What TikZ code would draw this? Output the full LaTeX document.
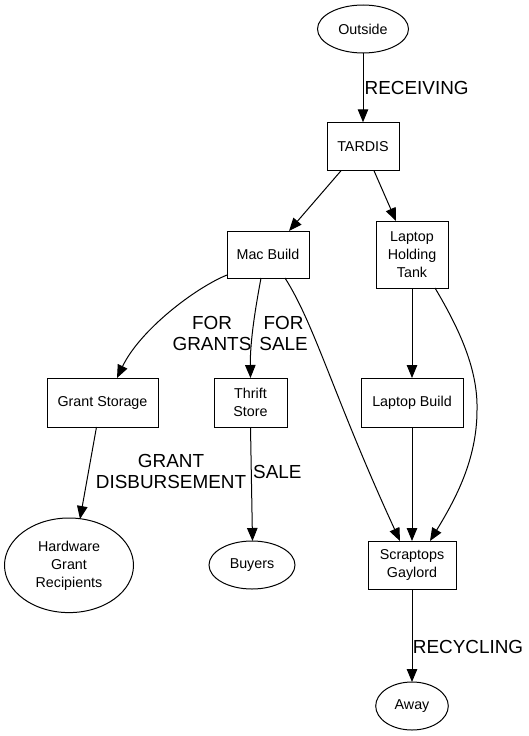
\documentclass[tikz,border=0pt]{standalone}
\usepackage{fontspec}
\setmainfont{Liberation Sans}
\usetikzlibrary{arrows.meta,shapes.geometric}
\begin{document}
\begin{tikzpicture}[x=1pt,y=-1pt,
  every node/.style={inner sep=0pt,outer sep=0pt},
  boxnode/.style={draw,line width=1pt,rectangle,align=center,font=\fontsize{14.3}{18}\selectfont},
  ellnode/.style={draw,line width=1pt,ellipse,align=center,font=\fontsize{14.3}{18}\selectfont},
  elabel/.style={align=center,font=\fontsize{18.9}{21.5}\selectfont},
  flow/.style={line width=1pt,-{Triangle[length=13pt,width=10.5pt]}}]
\useasboundingbox (0,0) rectangle (529,736);
\fill[white] (0,0) rectangle (529,736);
% nodes
\node[ellnode,minimum width=91pt,minimum height=48pt] (outside) at (363,29) {Outside};
\node[boxnode,minimum width=72pt,minimum height=48.5pt] (tardis) at (363,146.5) {TARDIS};
\node[boxnode,minimum width=82pt,minimum height=47pt] (mac) at (268,254.5) {Mac Build};
\node[boxnode,minimum width=72pt,minimum height=67pt] (lht) at (412,254.5) {Laptop\\Holding\\Tank};
\node[boxnode,minimum width=111pt,minimum height=49pt] (grant) at (102.5,402.5) {Grant Storage};
\node[boxnode,minimum width=73pt,minimum height=49pt] (thrift) at (250.5,402.5) {Thrift\\Store};
\node[boxnode,minimum width=102pt,minimum height=49pt] (lb) at (412,402.5) {Laptop Build};
\node[ellnode,minimum width=129pt,minimum height=94.6pt] (hw) at (69,565.3) {Hardware\\Grant\\Recipients};
\node[ellnode,minimum width=86pt,minimum height=48pt] (buyers) at (252,565) {Buyers};
\node[boxnode,minimum width=88pt,minimum height=48pt] (scrap) at (412,565) {Scraptops\\Gaylord};
\node[ellnode,minimum width=72.6pt,minimum height=48pt] (away) at (412,706) {Away};
% labels
\node[elabel] (lrecv) at (416.7,88.3) {RECEIVING};
\node[elabel] (lgrants) at (212,333.3) {FOR\\GRANTS};
\node[elabel] (lsale1) at (283.6,333.3) {FOR\\SALE};
\node[elabel] (ldisb) at (171,471.7) {GRANT\\DISBURSEMENT};
\node[elabel] (lsale2) at (277.4,471.7) {SALE};
\node[elabel] (lrecy) at (468,647.3) {RECYCLING};
% edges
\draw[flow] (outside.south) -- (tardis.north);
\draw[flow] ([xshift=-22pt]tardis.south) -- ([xshift=21pt]mac.north);
\draw[flow] ([xshift=11pt]tardis.south) -- ([xshift=-16pt]lht.north);
\draw[flow] ([yshift=3pt]mac.south west) .. controls (195,288) and (140,330) .. ([xshift=14.5pt]grant.north);
\draw[flow] ([xshift=-7pt]mac.south) .. controls (256,305) and (250,340) .. (thrift.north);
\draw[flow] ([xshift=17pt]mac.south) .. controls (315,325) and (335,400) .. ([xshift=-12pt]scrap.north);
\draw[flow] (lht.south) -- (lb.north);
\draw[flow] ([xshift=23pt]lht.south) .. controls (460,330) and (478,370) .. (477,410) .. controls (477,460) and (455,500) .. ([xshift=18pt]scrap.north);
\draw[flow] (lb.south) -- (scrap.north);
\draw[flow] ([xshift=-6pt]grant.south) -- ([xshift=11pt,yshift=-1pt]hw.north);
\draw[flow] (thrift.south) -- ([xshift=0.5pt]buyers.north);
\draw[flow] (scrap.south) -- (away.north);
\end{tikzpicture}
\end{document}
